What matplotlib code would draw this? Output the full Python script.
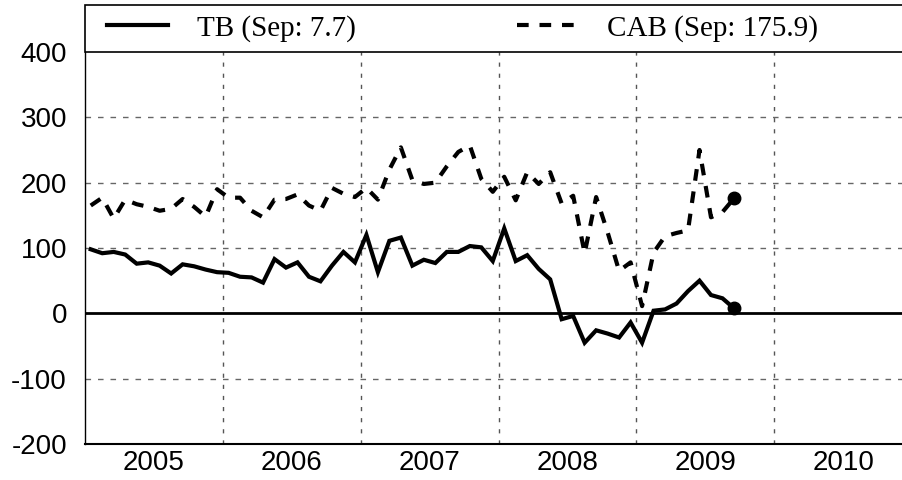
import numpy as np
import matplotlib
matplotlib.use("Agg")
import matplotlib.pyplot as plt
from matplotlib.patches import Rectangle

plt.rcParams['axes.unicode_minus'] = False

# monthly values, Jan 2005 - Sep 2009
tb = [98, 92, 94, 90, 76, 78, 73, 61, 75, 72, 67, 63,
      62, 56, 55, 47, 83, 70, 78, 56, 49, 73, 94, 78,
      120, 63, 111, 116, 73, 82, 77, 94, 94, 103, 101, 80,
      130, 80, 89, 68, 52, -9, -4, -45, -26, -31, -37, -14,
      -45, 4, 6, 15, 34, 50, 28, 23, 7.7]
cab = [165, 177, 145, 174, 167, 163, 157, 160, 175, 163, 148, 190,
       177, 177, 157, 147, 174, 175, 182, 165, 157, 192, 183, 178,
       192, 174, 220, 254, 204, 198, 200, 225, 247, 257, 206, 186,
       209, 173, 216, 198, 216, 168, 180, 92, 178, 124, 65, 78,
       11, 93, 118, 123, 127, 250, 147, 155, 175.9]
start_year = 2005
years = [2005, 2006, 2007, 2008, 2009, 2010]
labels = ['TB (Sep: 7.7)', 'CAB (Sep: 175.9)']

months = np.arange(len(tb))
x = start_year + (months + 0.5) / 12.0

fig = plt.figure(figsize=(9.03, 4.8), dpi=100)
ax = fig.add_axes([85 / 903, 36 / 480, 827 / 903, 392 / 480])

ax.plot(x, tb, color='black', lw=3, solid_joinstyle='miter', label=labels[0])
ax.plot(x, cab, color='black', lw=3, linestyle=(0, (2.8, 2.6)), label=labels[1])
ax.plot(x[-1], tb[-1], 'o', color='black', ms=9)
ax.plot(x[-1], cab[-1], 'o', color='black', ms=9)
ax.axhline(0, color='black', lw=2)

ax.set_xlim(2005, 2011)
ax.set_ylim(-200, 400)
ax.set_yticks(range(-200, 401, 100))
ax.set_xticks(years + [2011])
ax.set_xticks([y + 0.5 for y in years], minor=True)
ax.set_xticklabels([])
ax.set_xticklabels([str(y) for y in years], minor=True)
ax.tick_params(which='both', length=0)
ax.tick_params(axis='y', pad=13)
ax.tick_params(axis='x', which='minor', pad=4)
for lab in ax.get_xticklabels(minor=True) + ax.get_yticklabels():
    lab.set_fontfamily('Liberation Sans')
    lab.set_fontsize(20)

for yv in [-100, 100, 200, 300]:
    ax.axhline(yv, color='#666666', lw=1, linestyle=(0, (4, 5)), zorder=0)
for yr in years[1:]:
    ax.axvline(yr, color='#555555', lw=1, linestyle=(0, (3, 5)), zorder=0)

for s in ['top', 'right']:
    ax.spines[s].set_visible(False)
ax.spines['left'].set_color('black')
ax.spines['bottom'].set_color('black')
ax.spines['left'].set_linewidth(1)
ax.spines['bottom'].set_linewidth(1.5)

# legend box across the top
box = Rectangle((85 / 903, 1 - 52 / 480), 1.0, 47 / 480,
                transform=fig.transFigure, facecolor='white',
                edgecolor='black', lw=1.2, zorder=4, clip_on=False)
ax.add_artist(box)
leg = ax.legend(ncol=2, loc='center left', bbox_to_anchor=(0, 1 + 23.5 / 392),
                frameon=False, borderaxespad=0, borderpad=0.75,
                handlelength=2.1, handletextpad=1.0, columnspacing=5.5,
                prop={'family': 'Liberation Serif', 'size': 21})
leg.set_zorder(10)

fig.savefig('out.png', dpi=100)
